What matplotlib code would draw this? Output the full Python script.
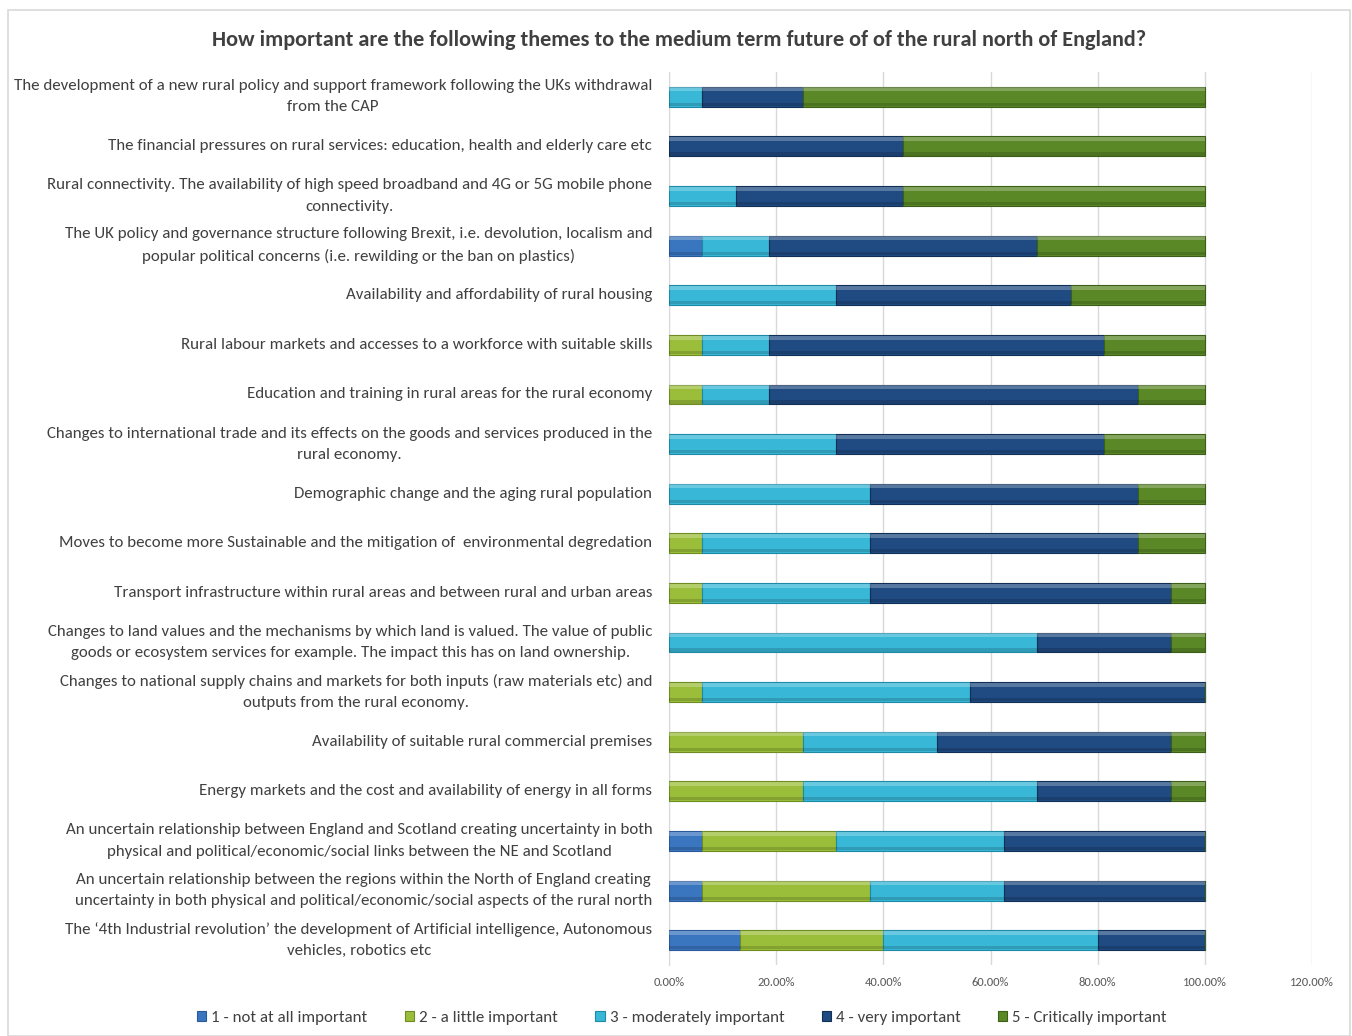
import numpy as np
import matplotlib
matplotlib.use("Agg")
import matplotlib.pyplot as plt
from matplotlib.patches import Rectangle
from matplotlib.ticker import FuncFormatter

plt.rcParams['font.family'] = ['Carlito', 'Lato', 'DejaVu Sans']

# themes, top to bottom
themes = [
    "The development of a new rural policy and support framework following the UKs withdrawal\nfrom the CAP",
    "The financial pressures on rural services: education, health and elderly care etc",
    "Rural connectivity. The availability of high speed broadband and 4G or 5G mobile phone\nconnectivity.",
    "The UK policy and governance structure following Brexit, i.e. devolution, localism and\npopular political concerns (i.e. rewilding or the ban on plastics)",
    "Availability and affordability of rural housing",
    "Rural labour markets and accesses to a workforce with suitable skills",
    "Education and training in rural areas for the rural economy",
    "Changes to international trade and its effects on the goods and services produced in the\nrural economy.",
    "Demographic change and the aging rural population",
    "Moves to become more Sustainable and the mitigation of  environmental degredation",
    "Transport infrastructure within rural areas and between rural and urban areas",
    "Changes to land values and the mechanisms by which land is valued. The value of public\ngoods or ecosystem services for example. The impact this has on land ownership.",
    "Changes to national supply chains and markets for both inputs (raw materials etc) and\noutputs from the rural economy.",
    "Availability of suitable rural commercial premises",
    "Energy markets and the cost and availability of energy in all forms",
    "An uncertain relationship between England and Scotland creating uncertainty in both\nphysical and political/economic/social links between the NE and Scotland",
    "An uncertain relationship between the regions within the North of England creating\nuncertainty in both physical and political/economic/social aspects of the rural north",
    "The \u20184th Industrial revolution\u2019 the development of Artificial intelligence, Autonomous\nvehicles, robotics etc",
]

series_names = ["1 - not at all important", "2 - a little important", "3 - moderately important",
                "4 - very important", "5 - Critically important"]

# percentages of respondents
not_at_all = [0, 0, 0, 6.25, 0, 0, 0, 0, 0, 0, 0, 0, 0, 0, 0, 6.25, 6.25, 13.33]
a_little = [0, 0, 0, 0, 0, 6.25, 6.25, 0, 0, 6.25, 6.25, 0, 6.25, 25, 25, 25, 31.25, 26.67]
moderately = [6.25, 0, 12.5, 12.5, 31.25, 12.5, 12.5, 31.25, 37.5, 31.25, 31.25, 68.75, 50, 25, 43.75, 31.25, 25, 40]
very = [18.75, 43.75, 31.25, 50, 43.75, 62.5, 68.75, 50, 50, 50, 56.25, 25, 43.75, 43.75, 25, 37.5, 37.5, 20]
critically = [75, 56.25, 56.25, 31.25, 25, 18.75, 12.5, 18.75, 12.5, 12.5, 6.25, 6.25, 0, 6.25, 6.25, 0, 0, 0]

colors = ['#3A75C0', '#9BBE3A', '#38B7D6', '#1F4B82', '#5A8826']
edges = ['#2a5a99', '#6f8c22', '#1f8aa6', '#122f55', '#3d5e17']

fig = plt.figure(figsize=(13.52, 10.36), dpi=100)
ax = fig.add_axes([669 / 1352, 1 - 965 / 1036, (1312 - 669) / 1352, (965 - 72) / 1036])

# outer chart border
fig.patches.append(Rectangle((8 / 1352, 0.0), 1342 / 1352, 1 - 10 / 1036, transform=fig.transFigure,
                             fill=False, edgecolor='#d9d9d9', linewidth=1.2))

y = np.arange(len(themes))
left = np.zeros(len(themes))
h = 0.4
for vals, name, c, ec in zip([not_at_all, a_little, moderately, very, critically], series_names, colors, edges):
    vals = np.array(vals) / 100
    ax.barh(y, vals, left=left, height=h, color=c, edgecolor=ec, linewidth=0.8, label=name, zorder=3)
    # bevel: lighter top strip, darker bottom strip
    ax.barh(y - h * 0.37, vals, left=left, height=h * 0.2, color='white', alpha=0.25,
            linewidth=0, zorder=4)
    ax.barh(y + h * 0.38, vals, left=left, height=h * 0.16, color='black', alpha=0.15,
            linewidth=0, zorder=4)
    left += vals

ax.set_xlim(0, 1.2)
ax.set_ylim(len(themes) - 0.5, -0.5)
ax.set_xticks(np.arange(0, 1.21, 0.2))
ax.xaxis.set_major_formatter(FuncFormatter(lambda v, p: f"{v * 100:.2f}%"))
ax.tick_params(axis='x', length=0, labelsize=9, labelcolor='#595959', pad=9)
ax.grid(axis='x', color='#d9d9d9', linewidth=1, zorder=0)
ax.set_yticks(y)
ax.set_yticklabels(themes, fontsize=12.2, color='#404040', ha='right', multialignment='center',
                   linespacing=1.65)
for t in ax.get_yticklabels():
    t.set_va('center')
ax.tick_params(axis='y', length=0, pad=12)
for s in ['top', 'right', 'bottom']:
    ax.spines[s].set_visible(False)
ax.spines['left'].set_color('#d9d9d9')

fig.text(679 / 1352, 1 - 40 / 1036, "How important are the following themes to the medium term future of of the rural north of England?",
         ha='center', va='center', fontsize=16, fontweight='bold', color='#404040')

fig.legend(loc='center', bbox_to_anchor=(682 / 1352, 1 - 1018 / 1036), ncol=5, frameon=False,
           fontsize=12.2, handlelength=0.55, handleheight=0.55, handletextpad=0.3, columnspacing=2.2,
           labelcolor='#404040')

fig.savefig("out.png", dpi=100)
